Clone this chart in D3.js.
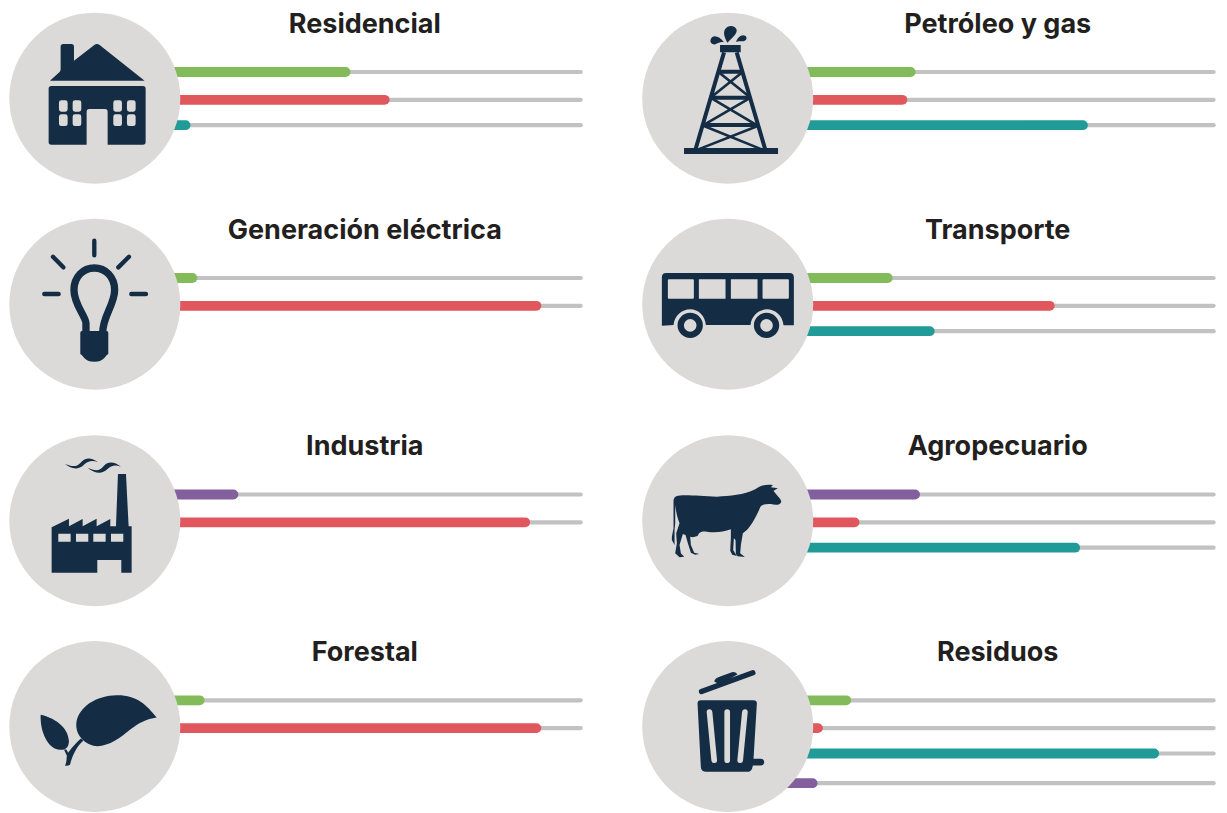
<!DOCTYPE html>
<html>
<head>
<meta charset="utf-8">
<style>
  html, body { margin: 0; background: #fff; }
  svg { display: block; }
  .title { font-family: Inter, sans-serif; font-weight: 700; font-size: 27px; fill: #231f20; }
</style>
<script src="https://d3js.org/d3.v7.min.js"></script>
</head>
<body>
<div id="chart"></div>
<script>
const sectors = ['Residencial', 'Petróleo y gas', 'Generación eléctrica', 'Transporte',
    'Industria', 'Agropecuario', 'Forestal', 'Residuos']

// values, as % of the grey track
const greenValues = [52.4, 38.5, 21.0, 33.8, null, null, 22.5, 25.3]
const redValues = [60.4, 36.8, 91.5, 67.0, 89.2, 27.0, 91.5, 19.5]
const tealValues = [19.6, 73.8, null, 42.4, null, 72.2, null, 88.4]
const purpleValues = [null, null, null, null, 29.4, 39.4, null, 18.4]

const width = 1227, height = 813
const colX = [94.8, 727.7]
const rowY = [98.2, 304.2, 520.7, 726.5]
const slotY = [-26.2, 1.6, 27, 56.7]
const radius = 85.5
const navy = '#142c44', disc = '#dbdad9'

const x = d3.scaleLinear().domain([0, 100]).range([0, 488])

// helpers for the icon outlines
const rr = (x, y, w, h, r) => `M${x + r} ${y}H${x + w - r}Q${x + w} ${y} ${x + w} ${y + r}V${y + h - r}Q${x + w} ${y + h} ${x + w - r} ${y + h}H${x + r}Q${x} ${y + h} ${x} ${y + h - r}V${y + r}Q${x} ${y} ${x + r} ${y}Z`
const circ = (x, y, r) => `M${x - r} ${y}A${r} ${r} 0 1 0 ${x + r} ${y}A${r} ${r} 0 1 0 ${x - r} ${y}Z`

// icons traced at 3x, c is the centre of the disc in the same units
const icons = [
    { c: [284.5, 294.5], parts: [
        { d: 'M150 242L178 217Q182 214 182 208V140Q182 132 190 132H214Q222 132 222 140V182L284 134Q291 130 298 134L434 242Z' },
        { d: rr(146, 258, 291, 176, 8) },
        { d: 'M260 438V335Q260 327 268 327H315Q323 327 323 335V438Z' + rr(177, 301, 26, 34, 7) + rr(218, 301, 26, 34, 7) + rr(177, 343, 26, 35, 7) + rr(218, 343, 26, 35, 7) + rr(340, 301, 26, 34, 7) + rr(381, 301, 26, 34, 7) + rr(340, 343, 26, 35, 7) + rr(381, 343, 26, 35, 7), fill: disc }
    ] },
    { c: [293, 294.5], parts: [
        { d: rr(162, 444, 282, 18, 0) + rr(270, 135, 62, 22, 0) },
        { d: 'M282 157L197 446M320 157L405 446', sw: 12 },
        { d: 'M263 215H340M240 293H362M218 375H385', sw: 12 },
        { d: 'M268 218L358 290M335 218L245 290M245 295L380 375M358 295L220 375M222 378L395 448M383 378L205 448', sw: 8 },
        { d: 'M292 128C285 115 278 100 285 88C292 76 312 74 319 87C325 100 305 115 292 128Z' },
        { d: 'M282 127C268 108 248 102 242 118C238 130 250 136 258 132C266 128 272 124 282 127Z' },
        { d: 'M318 126C322 112 336 100 347 108C353 116 347 124 338 124C330 124 324 124 318 126Z' }
    ] },
    { c: [284.5, 282.5], parts: [
        { d: 'M283 92V136M159 140L190 172M387 140L355 172M133 252H176M394 252H438', sw: 13, cap: 'round' },
        { d: 'M258 370V340C258 318 222 285 222 240C222 200 250 174 283 174C316 174 344 200 344 240C344 285 308 318 308 370', sw: 22 },
        { d: 'M241 368Q241 363 246 363H320Q325 363 325 368V432C315 436 315 455 283 455C251 455 251 436 241 432Z' }
    ] },
    { c: [262.5, 282.5], parts: [
        { d: 'M65 202Q65 189 78 189H448Q461 189 461 202V346H430C428 318 405 298 380 298C355 298 333 318 331 345H197C195 318 175 298 150 298C125 298 102 318 100 345L65 347Z' + rr(83, 208, 78, 58, 3) + rr(176, 208, 80, 58, 0) + rr(272, 208, 80, 58, 0) + rr(367, 208, 79, 58, 3) },
        { d: circ(150, 346, 38) + circ(150, 346, 19) + circ(379, 346, 38) + circ(379, 346, 19) }
    ] },
    { c: [284.5, 272], parts: [
        { d: 'M155 292L207 266V289L248 267V289L290 266V289L331 267V289H348L354 132H378L386 289H395V428H364V390H292V428H155Z' + rr(175, 311, 37, 24, 0) + rr(228, 311, 37, 24, 0) + rr(280, 311, 37, 24, 0) + rr(333, 311, 37, 24, 0) },
        { d: 'M195 102C215 108 228 115 245 95C258 82 275 82 295 97C278 90 265 92 252 104C235 120 215 118 195 102Z' },
        { d: 'M263 114C285 122 298 125 312 107C325 92 345 95 363 110C345 104 335 106 322 118C305 134 285 130 263 114Z' }
    ] },
    { c: [262.5, 272], parts: [
        { d: 'M110 198C125 192 180 198 230 200C270 198 310 195 345 178C360 165 380 162 398 165L392 172L413 175L400 182C408 195 425 208 423 216C420 226 405 226 392 222C378 222 365 222 360 232C350 255 335 285 320 300L308 310L302 345L300 370L314 381L292 379L287 372L286 330L281 325L279 360L286 372L290 378L276 374L270 362L272 325L272 298C250 305 225 310 200 305C188 303 178 303 172 318L158 322L150 320L152 345L162 368L177 372L165 374L152 368L143 340L136 315L128 312L118 345L122 370L132 380L118 382L105 370L110 340L108 310L118 280C110 260 107 240 105 225L105 280L103 300L103 345L95 330L95 320L100 295V210Q102 200 110 198Z' }
    ] },
    { c: [284.5, 275], parts: [
        { d: 'M470 248C440 210 410 180 350 181C290 182 235 215 229 265C227 290 240 320 280 333C320 340 360 310 390 285C415 265 440 252 470 248Z' },
        { d: 'M250 318C232 332 218 360 210 390Q203 394 195 392C202 380 198 370 202 358C212 342 230 322 243 311Z' },
        { d: 'M122 240C160 248 205 275 207 320C205 340 195 346 180 345C150 345 120 300 122 240Z' },
        { d: 'M192 344L199 344L211 364L205 372Z' }
    ] },
    { c: [262.5, 275], parts: [
        { d: 'M172 205Q172 196 182 196H340Q350 196 350 205L340 372H362Q372 372 372 382Q372 392 362 392H338L336 400Q333 411 320 411H198Q184 411 182 398Z' },
        { d: 'M208 232L222 376M261 232V376M314 232L300 376', sw: 17, cap: 'round', color: disc },
        { d: 'M184 170L338 114', sw: 16, cap: 'round' },
        { d: 'M222 140Q224 130 240 125L275 112Q285 110 292 118L240 150Z' }
    ] }
]

// one row per bar. purple takes the top slot when a sector has no green
function barsFor(i) {
    let bars = [
        { value: greenValues[i], slot: 0, colour: '#84bb5a' },
        { value: redValues[i], slot: 1, colour: '#e0575e' },
        { value: tealValues[i], slot: 2, colour: '#219b97' },
        { value: purpleValues[i], slot: greenValues[i] === null ? 0 : 3, colour: '#845f9e' }
    ]
    return bars.filter(d => d.value !== null)
}

let svg = d3.select('#chart')
    .append('svg')
    .attr('width', width)
    .attr('height', height)
    .attr('viewBox', `0 0 ${width} ${height}`)

let panels = svg.selectAll('g.panel')
    .data(sectors)
    .join('g')
    .attr('class', 'panel')
    .attr('transform', (d, i) => `translate(${colX[i % 2]},${rowY[Math.floor(i / 2)]})`)

panels.each(function (name, i) {
    let g = d3.select(this)
    let bars = barsFor(i)

    g.selectAll('rect.track')
        .data(bars)
        .join('rect')
        .attr('class', 'track')
        .attr('x', 0)
        .attr('y', d => slotY[d.slot] - 2.1)
        .attr('width', x(100))
        .attr('height', 4.2)
        .attr('rx', 2.1)
        .attr('fill', '#c2c2c2')

    g.selectAll('rect.bar')
        .data(bars)
        .join('rect')
        .attr('class', 'bar')
        .attr('x', 0)
        .attr('y', d => slotY[d.slot] - 4.9)
        .attr('width', d => x(d.value))
        .attr('height', 9.8)
        .attr('rx', 4.9)
        .attr('fill', d => d.colour)

    g.append('circle')
        .attr('r', radius)
        .attr('fill', disc)

    let icon = g.append('g')
        .attr('transform', `scale(${1 / 3}) translate(${-icons[i].c[0]},${-icons[i].c[1]})`)

    icon.selectAll('path')
        .data(icons[i].parts)
        .join('path')
        .attr('d', d => d.d)
        .attr('fill-rule', 'evenodd')
        .attr('fill', d => d.sw ? 'none' : (d.fill || navy))
        .attr('stroke', d => d.sw ? (d.color || navy) : 'none')
        .attr('stroke-width', d => d.sw || 0)
        .attr('stroke-linecap', d => d.cap || 'butt')

    g.append('text')
        .attr('class', 'title')
        .attr('x', 270)
        .attr('y', -65.5)
        .attr('text-anchor', 'middle')
        .text(name)
})
</script>
</body>
</html>
